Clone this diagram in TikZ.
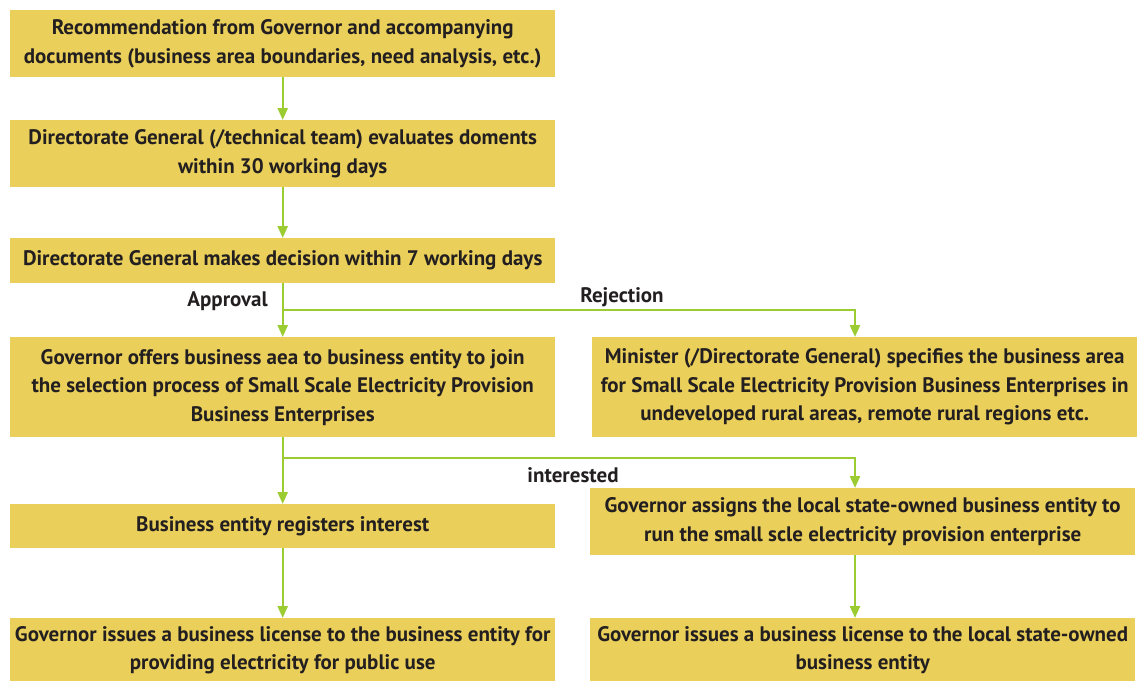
\documentclass[tikz,border=0pt]{standalone}
\usepackage{fontspec}
\setmainfont{PT Sans}[FakeStretch=1.0]
\usetikzlibrary{arrows.meta}

\definecolor{boxyellow}{RGB}{234,208,90}
\definecolor{flowgreen}{RGB}{155,205,50}
\definecolor{inkdark}{RGB}{35,31,32}

\begin{document}
\begin{tikzpicture}[
      x=1pt, y=-1pt,
      stepbox/.style={fill=boxyellow, minimum width=545pt, inner sep=0pt,
        anchor=north west, align=center, text=inkdark,
        font=\fontsize{21}{28.5}\selectfont\bfseries},
      flow/.style={-{Triangle[length=12pt, width=10pt]}, flowgreen, line width=2.4pt},
      branchlabel/.style={text=inkdark, inner sep=0pt, font=\fontsize{21}{22}\selectfont\bfseries}
  ]

  \useasboundingbox (0,0) rectangle (1139,680);

  % left column
  \node[stepbox, minimum height=67pt] (recommend) at (10,10)
    {Recommendation from Governor and accompanying\\documents (business area boundaries, need analysis, etc.)};
  \node[stepbox, minimum height=67pt] (evaluate) at (10,120)
    {Directorate General (/technical team) evaluates doments\\within 30 working days};
  \node[stepbox, minimum height=45pt] (decide) at (10,238)
    {Directorate General makes decision within 7 working days};
  \node[stepbox, minimum height=100pt] (offer) at (10,337)
    {Governor offers business aea to business entity to join\\the selection process of Small Scale Electricity Provision\\Business Enterprises};
  \node[stepbox, minimum height=44pt] (register) at (10,504)
    {Business entity registers interest};
  \node[stepbox, minimum height=64pt] (licensepub) at (10,618)
    {Governor issues a business license to the business entity for\\providing electricity for public use};

  % right column
  \node[stepbox, minimum height=100pt] (minister) at (592,337)
    {Minister (/Directorate General) specifies the business area\\for Small Scale Electricity Provision Business Enterprises in\\undeveloped rural areas, remote rural regions etc.};
  \node[stepbox, minimum height=67pt] (assign) at (590,488)
    {Governor assigns the local state-owned business entity to\\run the small scle electricity provision enterprise};
  \node[stepbox, minimum height=64pt] (licensesoe) at (590,618)
    {Governor issues a business license to the local state-owned\\business entity};

  \coordinate (rejturn) at (855,310);
  \coordinate (intturn) at (855,458);

  \draw[flow] (recommend) -- (evaluate);
  \draw[flow] (evaluate) -- (decide);
  \draw[flow] (decide) -- (offer);
  \draw[flow] (decide.south |- rejturn) -- (rejturn) -- (rejturn |- minister.north);
  \draw[flow] (offer) -- (register);
  \draw[flow] (offer.south |- intturn) -- (intturn) -- (intturn |- assign.north);
  \draw[flow] (register) -- (licensepub);
  \draw[flow] (assign.south -| intturn) -- (intturn |- licensesoe.north);

  \node[branchlabel, anchor=east] (approval) at (268,301) {Approval};
  \node[branchlabel] (rejection) at (622,297) {Rejection};
  \node[branchlabel] (interested) at (573,475) {interested};
\end{tikzpicture}
\end{document}
